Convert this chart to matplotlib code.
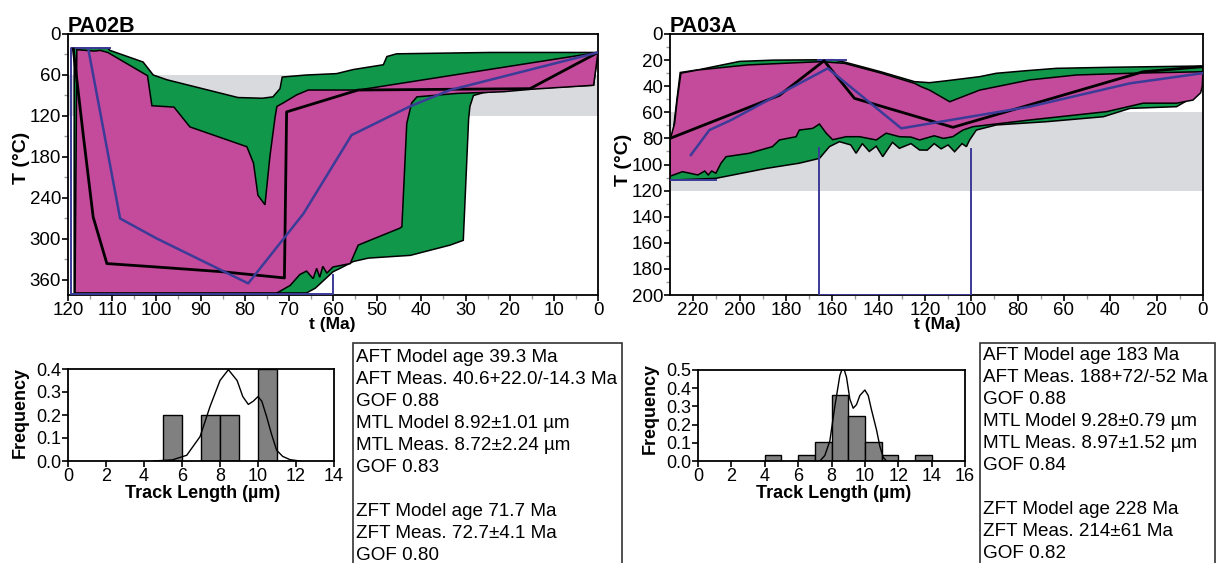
import numpy as np
import matplotlib
matplotlib.use("Agg")
import matplotlib.pyplot as plt
from matplotlib.patches import Rectangle

plt.rcParams['font.family'] = ['Liberation Sans', 'DejaVu Sans']

# ---------------- PA02B : t-T envelopes (t in Ma, T in degC) ----------------
acc1_up_t = [118.6, 111, 110.5, 103, 100.7, 97.6, 81.5, 76, 73.6, 72, 71.5, 66, 59.2, 55.4, 48.6, 47.8, 45.6, 24.5, 0]
acc1_up_T = [21, 21, 24, 41, 60, 67, 93, 94, 92, 80, 63, 60, 58, 52, 45, 33, 29, 27, 27]
acc1_lo_t = [0, 1, 15.4, 21.4, 26, 28.2, 29, 29.3, 30.5, 33.5, 36.5, 42.5, 52, 55.4, 58.4, 60, 62, 64, 66, 118.6]
acc1_lo_T = [27, 75, 80, 83, 86, 90, 106, 125, 302, 309, 314, 324, 328, 333, 343, 348, 360, 372, 379, 379]

good1_up_t = [118, 114, 112.7, 111, 102, 101, 96, 92.4, 82.6, 79.5, 78, 77, 75.4, 74.3, 73.1, 72.7, 71.3, 68.2, 65.6, 54.3, 0]
good1_up_T = [23, 25, 24, 27, 61, 105, 107, 136, 158, 165, 189, 236, 250, 180, 121, 106, 101, 89, 82, 82, 27]
good1_lo_t = [0, 1, 15.4, 21.4, 32, 41, 42.2, 43.3, 44.4, 44.8, 54.3, 56.1, 60, 61.4, 62.3, 63, 63.7, 64.5, 66, 67.5, 69.7, 72.7, 118.4]
good1_lo_T = [27, 75, 81, 84.5, 87, 92, 101, 131, 282, 284, 309, 336, 341, 350, 340, 356, 343, 358, 347, 352, 368, 379, 379]

best1_t = [118.8, 116.6, 114.3, 111.2, 100, 85, 71, 70.5, 54.3, 15.4, 0]
best1_T = [22, 145, 268, 336, 341, 348, 357, 114, 82, 80, 27]
mean1_t = [115.4, 108.2, 100, 79.2, 66.7, 55.8, 42.6, 33.5, 0]
mean1_T = [22, 270, 299, 365, 263, 148, 106, 82, 27]
con1 = [([110.6, 119.3, 119.3, 60, 60], [20, 20, 380, 380, 352])]

# ---------------- PA03A ----------------
acc2_up_t = [225.6, 217.4, 200, 185, 160, 154.7, 138.9, 124.5, 118, 111.5, 96.4, 89.2, 76.2, 63.2, 40.2, 0]
acc2_up_T = [29.5, 27.3, 21, 20, 19.7, 21.5, 29, 36.5, 37.3, 36, 32.7, 30.1, 28.1, 26.3, 25.5, 24.5]
acc2_lo_t = [0, 2.7, 11.4, 31.5, 43, 67.5, 89.2, 97.8, 100.7, 102.1, 104, 107.2, 110, 113, 116, 119, 122.3,
             126, 131, 134, 138.2, 141, 144, 147, 149.7, 152, 156.9, 161.2, 165.5, 174.2, 188.5, 210.2, 230,
             230, 228.2, 227]
acc2_lo_T = [37.8, 46.7, 55.7, 57, 63.4, 67.2, 69.7, 73.6, 81.2, 86.3, 84, 90.2, 85, 88, 84, 89, 88.9,
             84, 87.6, 83, 94, 86, 90, 84, 91.4, 85, 82.5, 86.3, 95.3, 99, 103, 110.6, 112,
             100, 68, 50]

good2_up_t = [230, 229.6, 228, 226.9, 225.3, 218, 196.5, 164.8, 154.7, 138.9, 124.5, 121.6, 118, 109.3, 96.4,
              89.2, 74.8, 54.6, 31.5, 0]
good2_up_T = [80, 78.7, 68.4, 50.6, 30, 27.6, 23.7, 21.2, 22.5, 30, 37.8, 40.4, 43, 51.9, 43,
              40.4, 35.2, 31.4, 30.1, 28.9]
good2_lo_t = [0, 0.3, 1, 4.3, 11.4, 25.8, 41.6, 74.8, 99.2, 103.6, 108, 112, 116, 122.3, 126, 131, 136.7,
              141, 148.2, 154, 159.8, 162.6, 165.5, 168.4, 174.2, 175.6, 182.8, 185.8, 195.8, 205.8, 208,
              210.2, 212, 213.5, 215, 218, 224.6, 230]
good2_lo_T = [28.9, 40, 45, 50.6, 53, 53, 59.5, 65.9, 71, 73.6, 78.7, 80, 78, 81.2, 79, 78.7, 76,
              81.2, 78.7, 78.7, 81, 76, 69, 72.3, 73.6, 78.7, 81.2, 86.3, 91.4, 94, 99,
              106.7, 105, 108, 105, 108, 105.5, 109]

best2_t = [230, 182.8, 163.5, 150.4, 107.9, 25.8, 0]
best2_T = [80, 47, 20.5, 49.3, 71.5, 28.9, 25]
mean2_t = [221, 213, 203.7, 183.5, 161.9, 130.2, 74.8, 31.5, 0]
mean2_T = [92.7, 73.6, 66, 46.7, 26.3, 72.3, 55.7, 37.8, 30]
con2 = [([230, 210.2], [112, 112]), ([166, 154], [20, 20]),
        ([165.5, 165.5, 100.3, 100.3], [87, 200, 200, 88])]

# partial annealing zone
paz = (60, 120)

# ---------------- track length histograms ----------------
bins1 = [5, 7, 8, 10]
freq1 = [0.2, 0.2, 0.2, 0.4]
pdf1_x = [4.5, 5.5, 6.25, 6.95, 7.48, 8.0, 8.44, 8.9, 9.2, 9.49, 9.75, 10.0, 10.2, 10.45, 10.7, 10.98, 11.3, 11.68, 12.2]
pdf1_y = [0.0, 0.005, 0.025, 0.106, 0.238, 0.35, 0.397, 0.35, 0.28, 0.246, 0.26, 0.28, 0.26, 0.194, 0.12, 0.047, 0.02, 0.006, 0.0]

bins2 = [4, 6, 7, 8, 9, 10, 11, 13]
freq2 = [0.034, 0.034, 0.103, 0.36, 0.25, 0.103, 0.034, 0.034]
pdf2_x = [7.3, 7.6, 7.9, 8.2, 8.5, 8.7, 8.9, 9.1, 9.3, 9.5, 9.7, 10.0, 10.2, 10.4, 10.7, 10.9, 11.1, 11.3]
pdf2_y = [0.0, 0.03, 0.11, 0.3, 0.47, 0.52, 0.46, 0.34, 0.29, 0.31, 0.36, 0.39, 0.36, 0.28, 0.17, 0.08, 0.02, 0.0]

stats1 = ["AFT Model age 39.3 Ma", "AFT Meas. 40.6+22.0/-14.3 Ma", "GOF 0.88",
          "MTL Model 8.92\u00b11.01 \u00b5m", "MTL Meas. 8.72\u00b12.24 \u00b5m", "GOF 0.83", "",
          "ZFT Model age 71.7 Ma", "ZFT Meas. 72.7\u00b14.1 Ma", "GOF 0.80"]
stats2 = ["AFT Model age 183 Ma", "AFT Meas. 188+72/-52 Ma", "GOF 0.88",
          "MTL Model 9.28\u00b10.79 \u00b5m", "MTL Meas. 8.97\u00b11.52 \u00b5m", "GOF 0.84", "",
          "ZFT Model age 228 Ma", "ZFT Meas. 214\u00b161 Ma", "GOF 0.82"]

GREEN = '#11974a'
MAGENTA = '#c44a9c'
BLUE = '#3b3b98'
GRAY = '#d9dadd'

W, H = 1217, 563
fig = plt.figure(figsize=(W / 100, H / 100), dpi=100)


def px_axes(x0, y0, x1, y1):
    return fig.add_axes([x0 / W, 1 - y1 / H, (x1 - x0) / W, (y1 - y0) / H])


def style(ax, size=13):
    for s in ax.spines.values():
        s.set_linewidth(1.3)
    ax.tick_params(which='major', direction='out', length=4, width=1.2, labelsize=size, pad=1)
    ax.tick_params(which='minor', direction='out', length=3, width=1, color='#999999')


def tT_panel(ax, name, xmax, ymax, yticks, xticks, acc, good, best, mean, cons):
    ax.axhspan(paz[0], paz[1], color=GRAY, lw=0, zorder=0.5)
    ax.fill(np.concatenate([acc[0], acc[2]]), np.concatenate([acc[1], acc[3]]),
            facecolor=GREEN, edgecolor='black', lw=1.1, zorder=1)
    ax.fill(np.concatenate([good[0], good[2]]), np.concatenate([good[1], good[3]]),
            facecolor=MAGENTA, edgecolor='black', lw=1.1, zorder=2)
    for ct, cT in cons:
        ax.plot(ct, cT, color=BLUE, lw=1.4, zorder=3)
    ax.plot(best[0], best[1], color='black', lw=2, zorder=4)
    ax.plot(mean[0], mean[1], color=BLUE, lw=1.8, zorder=5)
    ax.set_xlim(xmax, 0)
    ax.set_ylim(ymax, 0)
    ax.set_xticks(xticks)
    ax.set_yticks(yticks)
    ax.set_xticks(np.array(xticks[:-1]) - (xticks[0] - xticks[1]) / 2, minor=True)
    ax.set_yticks(np.array(yticks[:-1]) + (yticks[1] - yticks[0]) / 2, minor=True)
    style(ax, 13.5)
    ax.text(0, 1 + 2 / 261, name, transform=ax.transAxes, ha='left', va='baseline',
            fontsize=15.5, fontweight='bold')


ax1 = px_axes(68, 34, 598, 295)
tT_panel(ax1, 'PA02B', 120, 382, list(range(0, 361, 60)), list(range(120, -1, -10)),
         (acc1_up_t, acc1_up_T, acc1_lo_t, acc1_lo_T),
         (good1_up_t, good1_up_T, good1_lo_t, good1_lo_T),
         (best1_t, best1_T), (mean1_t, mean1_T), con1)
ax2 = px_axes(670, 34, 1203, 295)
tT_panel(ax2, 'PA03A', 230, 200, list(range(0, 201, 20)), list(range(220, -1, -20)),
         (acc2_up_t, acc2_up_T, acc2_lo_t, acc2_lo_T),
         (good2_up_t, good2_up_T, good2_lo_t, good2_lo_T),
         (best2_t, best2_T), (mean2_t, mean2_T), con2)

for xc, yc in [(21, 158), (623, 160)]:
    fig.text(xc / W, 1 - yc / H, 'T (\u00b0C)', rotation=90, ha='center', va='center',
             fontsize=14, fontweight='bold')
for xc in [332, 937]:
    fig.text(xc / W, 1 - 325 / H, 't (Ma)', ha='center', va='center', fontsize=12.5, fontweight='bold')


def hist_panel(ax, bins, freq, px, py, xmax, ymax):
    ax.bar(bins, freq, width=1, align='edge', color='#808080', edgecolor='black', lw=1, zorder=2)
    ax.plot(px, py, color='black', lw=1, zorder=3)
    ax.set_xlim(0, xmax)
    ax.set_ylim(0, ymax)
    ax.set_xticks(range(0, xmax + 1, 2))
    ax.set_yticks(np.round(np.arange(0, ymax + 0.01, 0.1), 1))
    ax.set_yticklabels(['%.1f' % v for v in np.arange(0, ymax + 0.01, 0.1)])
    style(ax, 13)


h1 = px_axes(68, 369, 334, 461)
hist_panel(h1, bins1, freq1, pdf1_x, pdf1_y, 14, 0.4)
h2 = px_axes(698, 370, 965, 461)
hist_panel(h2, bins2, freq2, pdf2_x, pdf2_y, 16, 0.5)

for xc, yc in [(20, 412), (650, 408)]:
    fig.text(xc / W, 1 - yc / H, 'Frequency', rotation=90, ha='center', va='center',
             fontsize=13, fontweight='bold')
for xc in [203, 834]:
    fig.text(xc / W, 1 - 493 / H, 'Track Length (\u00b5m)', ha='center', va='center',
             fontsize=13, fontweight='bold')

# stats boxes
for (bx0, bx1, tx, ty0), lines in [((353, 622, 356, 358), stats1), ((980, 1215, 983, 355), stats2)]:
    fig.add_artist(Rectangle((bx0 / W, -0.05), (bx1 - bx0) / W, 0.05 + 1 - 343 / H,
                             transform=fig.transFigure, fill=False, edgecolor='#333333', lw=1.2))
    for i, s in enumerate(lines):
        fig.text(tx / W, 1 - (ty0 + 22.0 * i) / H, s, ha='left', va='center', fontsize=13.6)

fig.savefig('out.png', dpi=100)
